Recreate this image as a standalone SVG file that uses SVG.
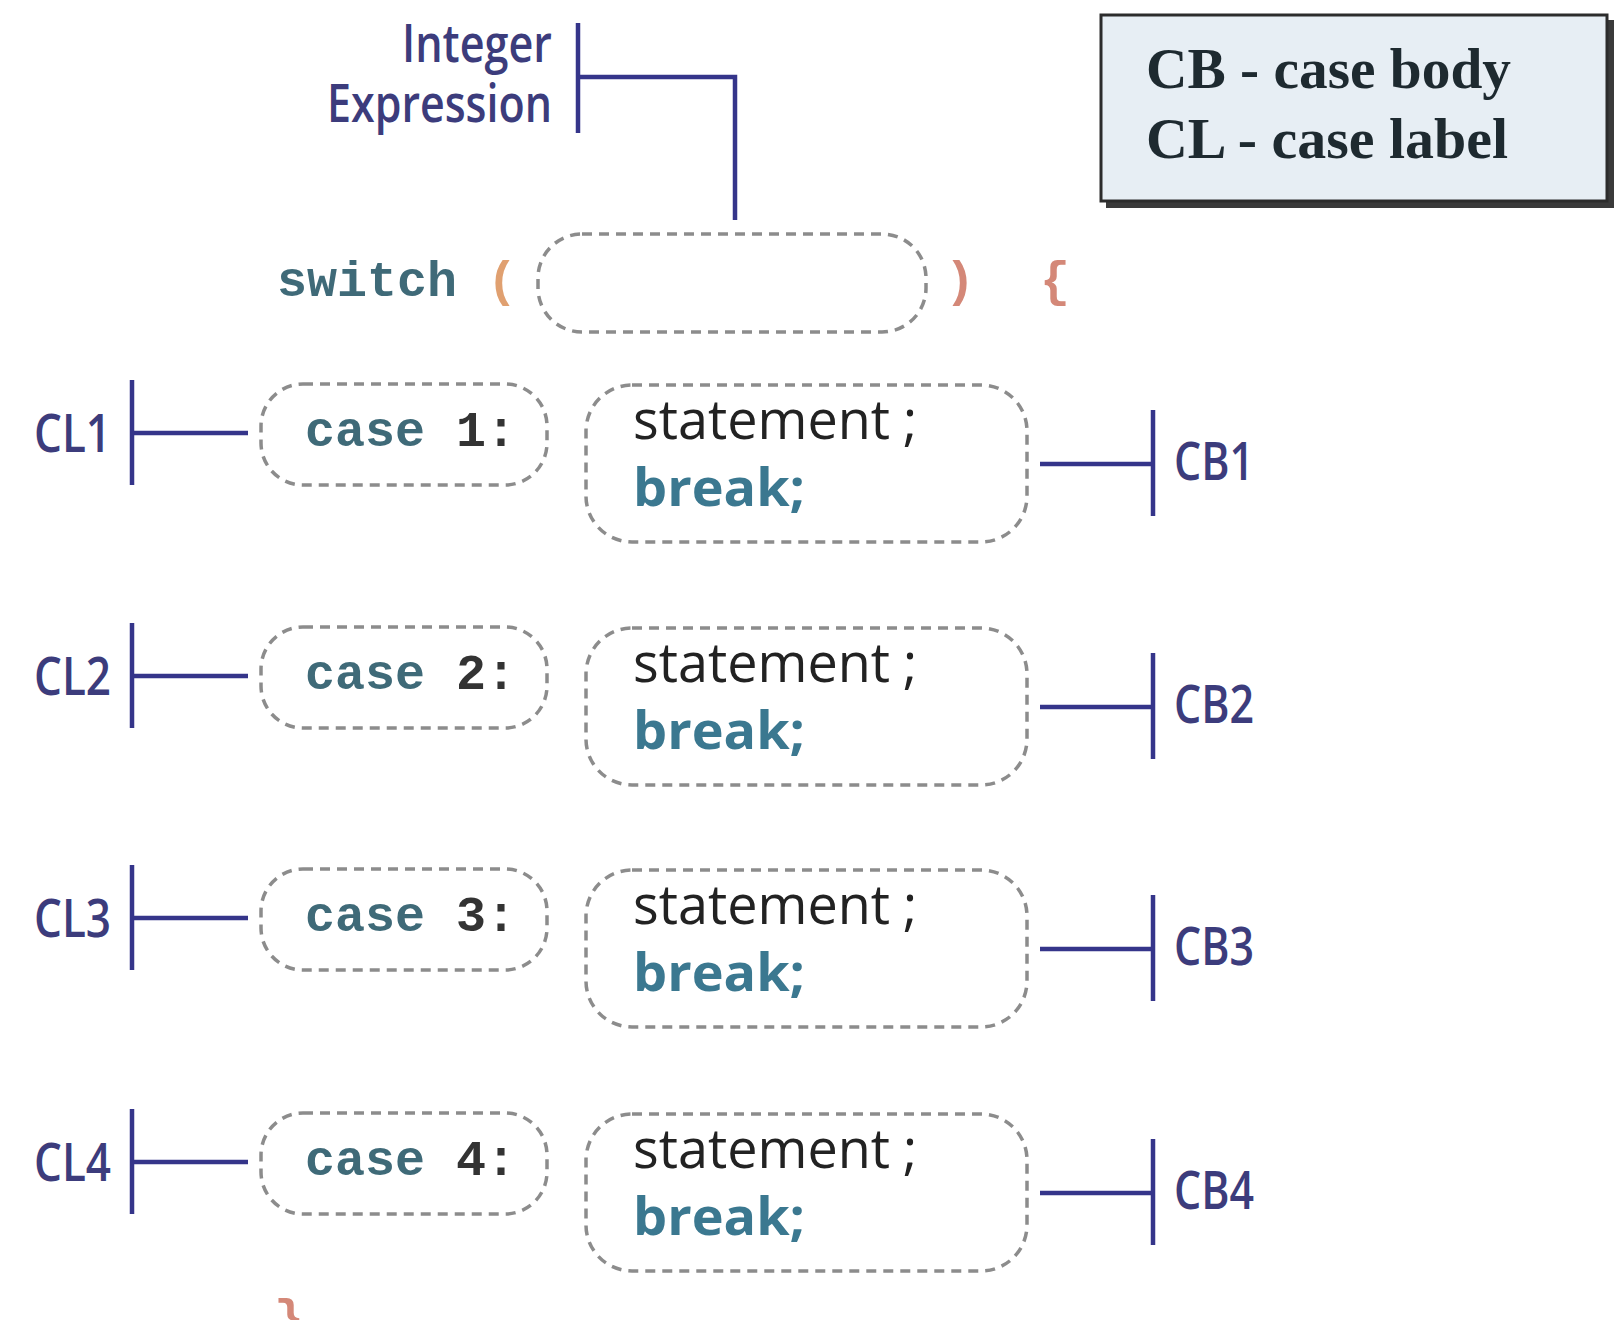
<svg xmlns="http://www.w3.org/2000/svg" width="1618" height="1320" viewBox="0 0 1618 1320">
  <style>
    .lbl { font-family: "Open Sans", "Noto Sans", sans-serif; font-weight: 600; font-size: 52px; fill: #3c3c7c; }
    .code { font-family: "Liberation Mono", "DejaVu Sans Mono", monospace; font-weight: bold; font-size: 50px; }
    .kw { fill: #3f6a78; }
    .num { fill: #333333; }
    .paren { fill: #e0a070; }
    .brace { fill: #d48878; }
    .stmt { font-family: "Open Sans", "Noto Sans", sans-serif; font-weight: 500; font-size: 54px; fill: #222222; }
    .brk { font-family: "Open Sans", "Noto Sans", sans-serif; font-weight: bold; font-size: 52px; fill: #3b7890; }
    .dash { fill: #ffffff; stroke: #8c8c8c; stroke-width: 3.5; stroke-dasharray: 10 7; }
    .conn { fill: none; stroke: #35358a; stroke-width: 4.5; }
    .legend { font-family: "Liberation Serif", "Times New Roman", serif; font-weight: bold; font-size: 58px; fill: #1e2a30; }
  </style>

  <rect width="1618" height="1320" fill="#ffffff"/>

  <!-- legend -->
  <g id="legend">
    <rect x="1106" y="20" width="508" height="188" fill="#3a3a3a"/>
    <rect x="1101" y="15" width="506" height="186" fill="#e7eef4" stroke="#2c2c2c" stroke-width="3"/>
    <text class="legend" x="1146" y="88" textLength="365" lengthAdjust="spacingAndGlyphs">CB - case body</text>
    <text class="legend" x="1146" y="158" textLength="362" lengthAdjust="spacingAndGlyphs">CL - case label</text>
  </g>

  <!-- integer expression label -->
  <g id="integer-expression">
    <text class="lbl" x="552" y="62" text-anchor="end" font-size="40" textLength="150" lengthAdjust="spacingAndGlyphs">Integer</text>
    <text class="lbl" x="552" y="122" text-anchor="end" font-size="40" textLength="225" lengthAdjust="spacingAndGlyphs">Expression</text>
  </g>

  <!-- switch header -->
  <g id="switch">
    <text class="code kw" x="277" y="296">switch</text>
    <text class="code paren" x="487" y="296">(</text>
    <rect class="dash" x="538" y="234" width="388" height="98" rx="44"/>
    <text class="code brace" x="945" y="296">)</text>
    <text class="code brace" x="1040" y="296">{</text>
  </g>

  <!-- case labels -->
  <g id="case1">
    <rect class="dash" x="261" y="384" width="286" height="101" rx="42"/>
    <text class="code" x="305" y="446"><tspan class="kw">case</tspan><tspan class="num" x="456">1:</tspan></text>
  </g>
  <g id="case2" transform="translate(0,243)">
    <rect class="dash" x="261" y="384" width="286" height="101" rx="42"/>
    <text class="code" x="305" y="446"><tspan class="kw">case</tspan><tspan class="num" x="456">2:</tspan></text>
  </g>
  <g id="case3" transform="translate(0,485)">
    <rect class="dash" x="261" y="384" width="286" height="101" rx="42"/>
    <text class="code" x="305" y="446"><tspan class="kw">case</tspan><tspan class="num" x="456">3:</tspan></text>
  </g>
  <g id="case4" transform="translate(0,729)">
    <rect class="dash" x="261" y="384" width="286" height="101" rx="42"/>
    <text class="code" x="305" y="446"><tspan class="kw">case</tspan><tspan class="num" x="456">4:</tspan></text>
  </g>

  <!-- case bodies -->
  <g id="body1">
    <rect class="dash" x="586" y="385" width="441" height="157" rx="46"/>
    <text class="stmt" x="633" y="439"><tspan textLength="257" lengthAdjust="spacingAndGlyphs">statement</tspan><tspan x="903">;</tspan></text>
    <text class="brk" x="633" y="506" textLength="172" lengthAdjust="spacingAndGlyphs">break;</text>
  </g>
  <g id="body2" transform="translate(0,243)">
    <rect class="dash" x="586" y="385" width="441" height="157" rx="46"/>
    <text class="stmt" x="633" y="439"><tspan textLength="257" lengthAdjust="spacingAndGlyphs">statement</tspan><tspan x="903">;</tspan></text>
    <text class="brk" x="633" y="506" textLength="172" lengthAdjust="spacingAndGlyphs">break;</text>
  </g>
  <g id="body3" transform="translate(0,485)">
    <rect class="dash" x="586" y="385" width="441" height="157" rx="46"/>
    <text class="stmt" x="633" y="439"><tspan textLength="257" lengthAdjust="spacingAndGlyphs">statement</tspan><tspan x="903">;</tspan></text>
    <text class="brk" x="633" y="506" textLength="172" lengthAdjust="spacingAndGlyphs">break;</text>
  </g>
  <g id="body4" transform="translate(0,729)">
    <rect class="dash" x="586" y="385" width="441" height="157" rx="46"/>
    <text class="stmt" x="633" y="439"><tspan textLength="257" lengthAdjust="spacingAndGlyphs">statement</tspan><tspan x="903">;</tspan></text>
    <text class="brk" x="633" y="506" textLength="172" lengthAdjust="spacingAndGlyphs">break;</text>
  </g>

  <!-- CL / CB markers -->
  <g id="cl1"><text class="lbl" x="34" y="452" textLength="77" lengthAdjust="spacingAndGlyphs">CL1</text></g>
  <g id="cl2" transform="translate(0,243)"><text class="lbl" x="34" y="452" textLength="77" lengthAdjust="spacingAndGlyphs">CL2</text></g>
  <g id="cl3" transform="translate(0,485)"><text class="lbl" x="34" y="452" textLength="77" lengthAdjust="spacingAndGlyphs">CL3</text></g>
  <g id="cl4" transform="translate(0,729)"><text class="lbl" x="34" y="452" textLength="77" lengthAdjust="spacingAndGlyphs">CL4</text></g>
  <g id="cb1"><text class="lbl" x="1174" y="480" textLength="80" lengthAdjust="spacingAndGlyphs">CB1</text></g>
  <g id="cb2" transform="translate(0,243)"><text class="lbl" x="1174" y="480" textLength="80" lengthAdjust="spacingAndGlyphs">CB2</text></g>
  <g id="cb3" transform="translate(0,485)"><text class="lbl" x="1174" y="480" textLength="80" lengthAdjust="spacingAndGlyphs">CB3</text></g>
  <g id="cb4" transform="translate(0,729)"><text class="lbl" x="1174" y="480" textLength="80" lengthAdjust="spacingAndGlyphs">CB4</text></g>

  <!-- closing brace, running off the bottom edge -->
  <g id="close-brace">
    <text class="code brace" x="274" y="1334">}</text>
  </g>

  <!-- connectors -->
  <g id="connectors" class="conn">
    <path d="M578 23 V133 M578 77 H735 V220"/>
    <path d="M132 380 V485 M132 433 H248"/>
    <path d="M132 623 V728 M132 676 H248"/>
    <path d="M132 865 V970 M132 918 H248"/>
    <path d="M132 1109 V1214 M132 1162 H248"/>
    <path d="M1040 464 H1153 M1153 410 V516"/>
    <path d="M1040 707 H1153 M1153 653 V759"/>
    <path d="M1040 949 H1153 M1153 895 V1001"/>
    <path d="M1040 1193 H1153 M1153 1139 V1245"/>
  </g>
</svg>
